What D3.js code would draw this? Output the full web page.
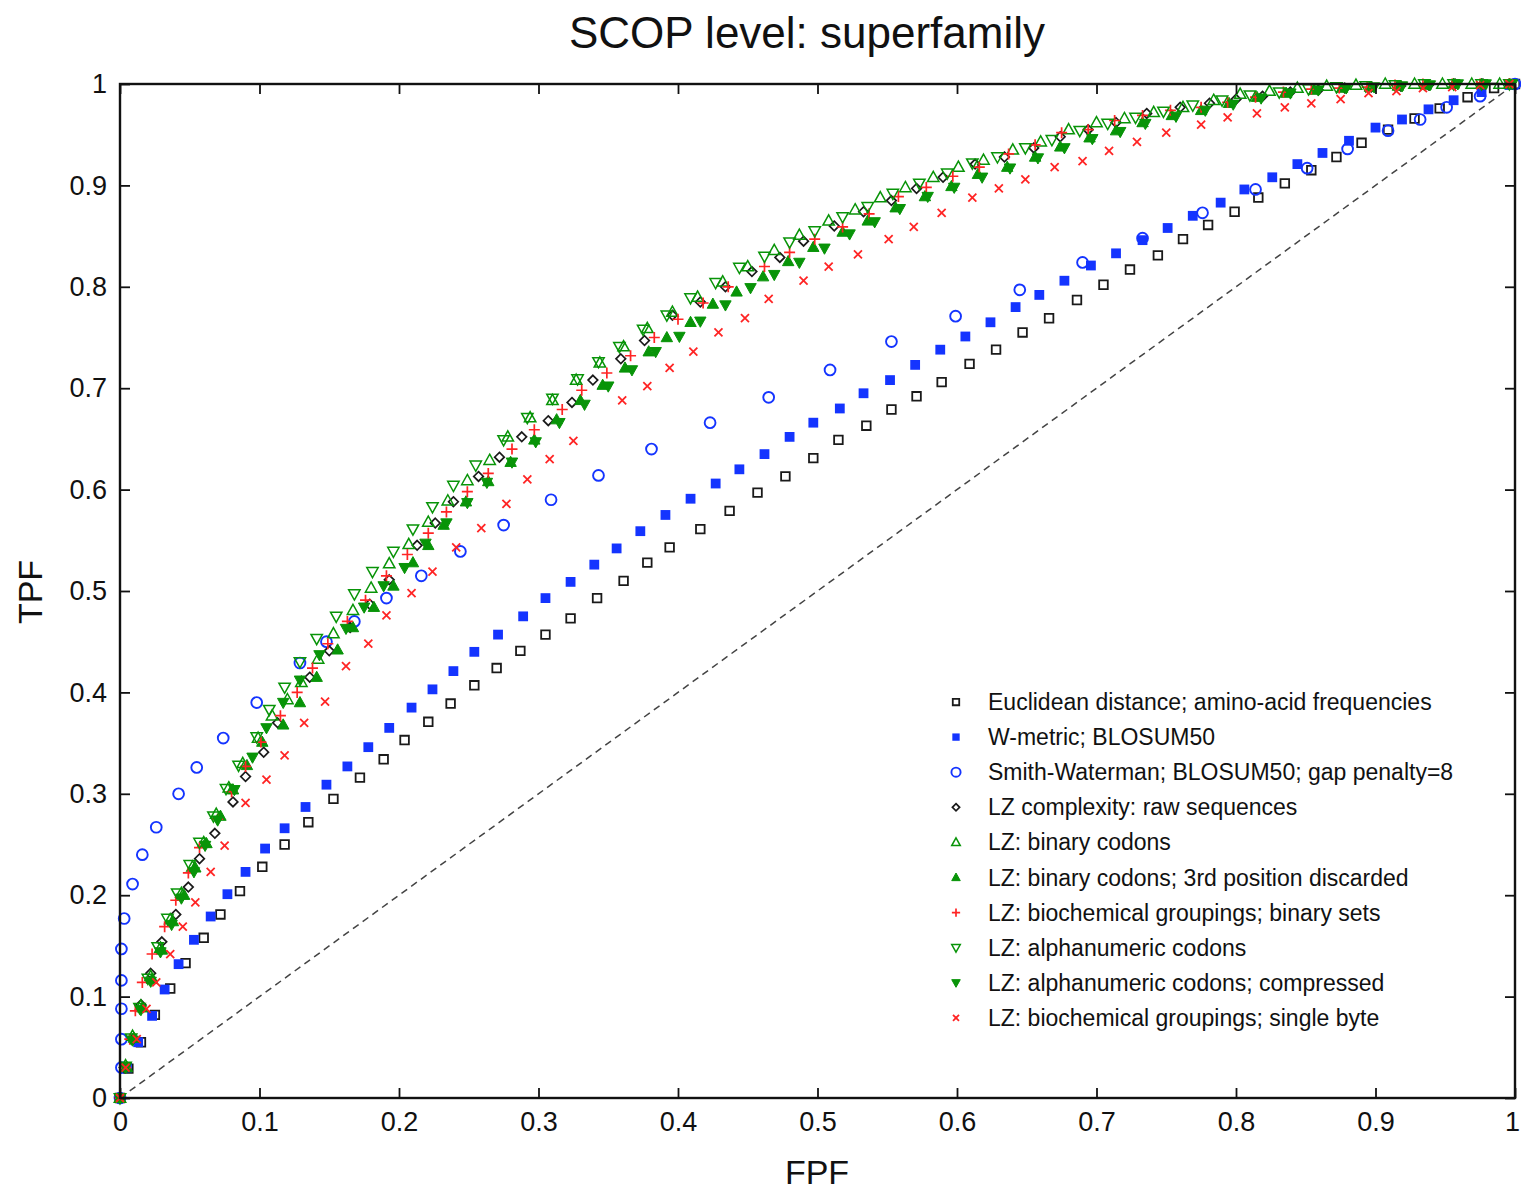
<!DOCTYPE html>
<html><head><meta charset="utf-8">
<script src="https://cdn.jsdelivr.net/npm/d3@7"></script>
<style>
body{margin:0;background:#fff;}
svg{display:block;}
text{font-family:"Liberation Sans",Arial,Helvetica,sans-serif;fill:#111;}
</style>
</head><body>
<svg id="chart" width="1521" height="1191"></svg>
<script>
// ---------- data (FPF, TPF) ----------
const xTickValues=[0,0.1,0.2,0.3,0.4,0.5,0.6,0.7,0.8,0.9,1];
const xTickLabels=["0","0.1","0.2","0.3","0.4","0.5","0.6","0.7","0.8","0.9","1"];
const yTickValues=[0,0.1,0.2,0.3,0.4,0.5,0.6,0.7,0.8,0.9,1];
const yTickLabels=["0","0.1","0.2","0.3","0.4","0.5","0.6","0.7","0.8","0.9","1"];

const euclidean=[[0,0],[0.006,0.029],[0.015,0.055],[0.025,0.082],[0.036,0.108],[0.047,0.133],[0.060,0.158],[0.072,0.181],[0.086,0.204],[0.102,0.228],[0.118,0.250],[0.135,0.272],[0.153,0.295],[0.172,0.316],[0.189,0.334],[0.204,0.353],[0.221,0.371],[0.237,0.389],[0.254,0.407],[0.270,0.424],[0.287,0.441],[0.305,0.457],[0.323,0.473],[0.342,0.493],[0.361,0.510],[0.378,0.528],[0.394,0.543],[0.416,0.561],[0.437,0.579],[0.457,0.597],[0.477,0.613],[0.497,0.631],[0.515,0.649],[0.535,0.663],[0.553,0.679],[0.571,0.692],[0.589,0.706],[0.609,0.724],[0.628,0.738],[0.647,0.755],[0.666,0.769],[0.686,0.787],[0.705,0.802],[0.724,0.817],[0.744,0.831],[0.762,0.847],[0.780,0.861],[0.799,0.874],[0.816,0.888],[0.835,0.902],[0.854,0.915],[0.872,0.928],[0.890,0.942],[0.909,0.955],[0.928,0.966],[0.946,0.976],[0.966,0.987],[0.985,0.996],[1,1]];

const wmetric=[[0,0],[0.005,0.030],[0.013,0.055],[0.023,0.081],[0.032,0.107],[0.042,0.132],[0.053,0.156],[0.065,0.179],[0.077,0.201],[0.090,0.223],[0.104,0.246],[0.118,0.266],[0.133,0.287],[0.148,0.309],[0.163,0.327],[0.178,0.346],[0.193,0.365],[0.209,0.385],[0.224,0.403],[0.239,0.421],[0.254,0.440],[0.271,0.457],[0.289,0.475],[0.305,0.493],[0.323,0.509],[0.340,0.526],[0.356,0.542],[0.373,0.559],[0.391,0.575],[0.409,0.591],[0.427,0.606],[0.444,0.620],[0.462,0.635],[0.480,0.652],[0.497,0.666],[0.516,0.680],[0.533,0.695],[0.552,0.708],[0.570,0.723],[0.588,0.738],[0.606,0.751],[0.624,0.765],[0.642,0.780],[0.659,0.792],[0.677,0.806],[0.696,0.821],[0.714,0.833],[0.733,0.846],[0.751,0.858],[0.769,0.870],[0.789,0.883],[0.806,0.896],[0.826,0.908],[0.844,0.921],[0.862,0.932],[0.881,0.944],[0.900,0.957],[0.919,0.965],[0.938,0.975],[0.956,0.984],[0.976,0.992],[0.996,0.999]];

const smithWaterman=[[0,0],[0.001,0.030],[0.001,0.058],[0.001,0.088],[0.001,0.116],[0.001,0.147],[0.003,0.177],[0.009,0.211],[0.016,0.240],[0.026,0.267],[0.042,0.300],[0.055,0.326],[0.074,0.355],[0.098,0.390],[0.129,0.429],[0.148,0.450],[0.168,0.470],[0.191,0.493],[0.216,0.515],[0.244,0.539],[0.275,0.565],[0.309,0.590],[0.343,0.614],[0.381,0.640],[0.423,0.666],[0.465,0.691],[0.509,0.718],[0.553,0.746],[0.599,0.771],[0.645,0.797],[0.690,0.824],[0.733,0.848],[0.776,0.873],[0.814,0.896],[0.851,0.917],[0.880,0.936],[0.909,0.954],[0.932,0.965],[0.951,0.977],[0.975,0.988],[1,1]];

const lzRaw=[[0,0],[0.003,0.030],[0.009,0.058],[0.015,0.092],[0.022,0.123],[0.030,0.154],[0.040,0.181],[0.049,0.208],[0.057,0.236],[0.068,0.261],[0.081,0.292],[0.090,0.317],[0.103,0.341],[0.113,0.370],[0.136,0.415],[0.150,0.441],[0.165,0.464],[0.179,0.487],[0.193,0.511],[0.213,0.545],[0.226,0.567],[0.239,0.588],[0.257,0.613],[0.272,0.632],[0.288,0.652],[0.307,0.668],[0.324,0.686],[0.339,0.708],[0.359,0.729],[0.376,0.747],[0.396,0.772],[0.416,0.785],[0.434,0.800],[0.453,0.815],[0.473,0.829],[0.490,0.845],[0.512,0.860],[0.533,0.874],[0.553,0.885],[0.571,0.897],[0.590,0.908],[0.613,0.921],[0.634,0.928],[0.655,0.937],[0.674,0.948],[0.694,0.955],[0.714,0.962],[0.736,0.971],[0.760,0.977],[0.781,0.981],[0.800,0.985],[0.819,0.988],[0.839,0.992],[0.859,0.994],[0.878,0.996],[0.897,0.997],[0.918,0.998],[0.938,0.999],[0.957,1],[0.977,1],[0.996,1]];

const binaryCodons=[[0,0],[0.004,0.032],[0.009,0.061],[0.015,0.091],[0.022,0.120],[0.029,0.148],[0.036,0.176],[0.044,0.202],[0.052,0.228],[0.060,0.252],[0.069,0.280],[0.078,0.306],[0.088,0.330],[0.099,0.355],[0.109,0.377],[0.120,0.393],[0.130,0.410],[0.142,0.433],[0.153,0.458],[0.167,0.481],[0.180,0.503],[0.193,0.527],[0.207,0.546],[0.221,0.568],[0.235,0.589],[0.249,0.609],[0.265,0.629],[0.278,0.652],[0.294,0.671],[0.310,0.688],[0.327,0.708],[0.344,0.725],[0.361,0.741],[0.378,0.759],[0.396,0.775],[0.414,0.790],[0.432,0.805],[0.450,0.820],[0.469,0.836],[0.487,0.851],[0.508,0.865],[0.527,0.876],[0.545,0.888],[0.563,0.898],[0.583,0.908],[0.601,0.918],[0.619,0.925],[0.640,0.935],[0.660,0.943],[0.680,0.955],[0.700,0.962],[0.720,0.966],[0.741,0.972],[0.762,0.977],[0.784,0.984],[0.803,0.990],[0.824,0.993],[0.844,0.996],[0.865,0.998],[0.886,0.999],[0.907,1],[0.928,1],[0.948,1],[0.969,1],[0.989,1]];

const binaryCodons3rd=[[0,0],[0.005,0.030],[0.010,0.059],[0.016,0.089],[0.023,0.117],[0.030,0.146],[0.038,0.174],[0.046,0.200],[0.054,0.227],[0.062,0.251],[0.072,0.278],[0.081,0.304],[0.091,0.328],[0.102,0.351],[0.117,0.368],[0.129,0.390],[0.141,0.415],[0.156,0.442],[0.167,0.464],[0.182,0.484],[0.196,0.505],[0.210,0.528],[0.221,0.545],[0.232,0.565],[0.248,0.588],[0.264,0.608],[0.280,0.627],[0.297,0.649],[0.313,0.669],[0.330,0.688],[0.346,0.703],[0.362,0.720],[0.379,0.736],[0.392,0.750],[0.409,0.765],[0.425,0.783],[0.442,0.795],[0.461,0.810],[0.479,0.825],[0.497,0.839],[0.518,0.854],[0.536,0.865],[0.556,0.878],[0.577,0.889],[0.596,0.899],[0.615,0.911],[0.636,0.918],[0.656,0.928],[0.674,0.938],[0.695,0.947],[0.714,0.954],[0.733,0.962],[0.754,0.969],[0.775,0.974],[0.795,0.981],[0.815,0.987],[0.836,0.991],[0.856,0.994],[0.876,0.996],[0.896,0.997],[0.916,0.998],[0.936,0.999],[0.956,1],[0.976,1],[0.996,1]];

const bioBinarySets=[[0,0],[0.004,0.030],[0.007,0.058],[0.011,0.086],[0.016,0.114],[0.023,0.142],[0.032,0.169],[0.040,0.195],[0.049,0.222],[0.057,0.247],[0.070,0.275],[0.080,0.302],[0.090,0.327],[0.101,0.351],[0.115,0.377],[0.127,0.400],[0.138,0.424],[0.149,0.448],[0.163,0.470],[0.176,0.491],[0.191,0.515],[0.206,0.536],[0.221,0.557],[0.234,0.578],[0.249,0.598],[0.264,0.616],[0.281,0.640],[0.297,0.659],[0.317,0.679],[0.331,0.698],[0.349,0.715],[0.366,0.732],[0.383,0.750],[0.400,0.768],[0.418,0.784],[0.436,0.800],[0.462,0.820],[0.480,0.834],[0.498,0.847],[0.518,0.859],[0.537,0.872],[0.558,0.889],[0.578,0.898],[0.597,0.909],[0.616,0.918],[0.637,0.931],[0.656,0.940],[0.675,0.952],[0.694,0.955],[0.713,0.964],[0.733,0.969],[0.753,0.974],[0.775,0.977],[0.794,0.982],[0.814,0.987],[0.834,0.992],[0.854,0.995],[0.874,0.996],[0.894,0.997],[0.914,0.999],[0.934,1],[0.955,1],[0.975,1],[0.996,1]];

const alphanumCodons=[[0,0],[0.004,0.031],[0.008,0.059],[0.014,0.089],[0.020,0.118],[0.027,0.149],[0.034,0.177],[0.041,0.202],[0.050,0.230],[0.057,0.252],[0.067,0.278],[0.076,0.305],[0.085,0.328],[0.098,0.356],[0.107,0.383],[0.118,0.405],[0.129,0.430],[0.141,0.453],[0.155,0.475],[0.168,0.497],[0.181,0.519],[0.196,0.539],[0.210,0.561],[0.224,0.583],[0.239,0.604],[0.255,0.624],[0.275,0.649],[0.292,0.671],[0.310,0.690],[0.328,0.709],[0.343,0.726],[0.358,0.741],[0.375,0.758],[0.392,0.772],[0.409,0.789],[0.427,0.804],[0.444,0.819],[0.462,0.830],[0.480,0.844],[0.498,0.855],[0.518,0.869],[0.536,0.879],[0.554,0.892],[0.573,0.902],[0.593,0.912],[0.611,0.922],[0.629,0.928],[0.649,0.937],[0.668,0.945],[0.688,0.954],[0.708,0.961],[0.728,0.967],[0.748,0.973],[0.769,0.979],[0.790,0.984],[0.810,0.989],[0.831,0.992],[0.852,0.995],[0.872,0.997],[0.893,0.998],[0.914,0.999],[0.935,1],[0.956,1],[0.976,1],[0.996,1]];

const alphanumCompressed=[[0,0],[0.004,0.030],[0.009,0.057],[0.015,0.087],[0.022,0.115],[0.029,0.144],[0.037,0.171],[0.044,0.197],[0.053,0.223],[0.061,0.249],[0.070,0.274],[0.082,0.304],[0.095,0.336],[0.105,0.365],[0.117,0.390],[0.129,0.412],[0.143,0.437],[0.162,0.463],[0.175,0.484],[0.189,0.505],[0.204,0.523],[0.219,0.547],[0.234,0.567],[0.249,0.587],[0.263,0.607],[0.281,0.627],[0.298,0.647],[0.315,0.666],[0.333,0.684],[0.350,0.702],[0.367,0.718],[0.384,0.736],[0.401,0.751],[0.416,0.766],[0.434,0.782],[0.452,0.799],[0.469,0.812],[0.487,0.824],[0.505,0.838],[0.523,0.852],[0.541,0.864],[0.559,0.877],[0.579,0.889],[0.598,0.898],[0.618,0.908],[0.638,0.917],[0.658,0.927],[0.677,0.937],[0.697,0.946],[0.717,0.953],[0.735,0.961],[0.757,0.968],[0.778,0.974],[0.798,0.980],[0.818,0.986],[0.839,0.991],[0.859,0.994],[0.879,0.996],[0.899,0.997],[0.919,0.998],[0.939,0.999],[0.959,1],[0.979,1],[0.998,1]];

const bioSingleByte=[[0,0],[0.004,0.030],[0.012,0.058],[0.019,0.088],[0.026,0.114],[0.036,0.142],[0.045,0.169],[0.054,0.193],[0.065,0.223],[0.075,0.249],[0.090,0.291],[0.105,0.314],[0.118,0.338],[0.132,0.370],[0.147,0.391],[0.162,0.426],[0.178,0.448],[0.191,0.476],[0.209,0.498],[0.224,0.519],[0.241,0.543],[0.259,0.562],[0.277,0.586],[0.292,0.610],[0.308,0.630],[0.325,0.648],[0.360,0.688],[0.378,0.702],[0.394,0.720],[0.411,0.736],[0.429,0.755],[0.448,0.769],[0.465,0.788],[0.490,0.806],[0.508,0.820],[0.529,0.832],[0.551,0.847],[0.569,0.859],[0.589,0.873],[0.611,0.888],[0.630,0.897],[0.649,0.906],[0.670,0.918],[0.690,0.924],[0.709,0.934],[0.729,0.943],[0.750,0.952],[0.775,0.960],[0.794,0.967],[0.815,0.971],[0.835,0.977],[0.854,0.981],[0.875,0.985],[0.895,0.991],[0.915,0.993],[0.934,0.996],[0.955,0.997],[0.975,0.999],[0.996,1]];

const seriesNames=["Euclidean distance; amino-acid frequencies","W-metric; BLOSUM50","Smith-Waterman; BLOSUM50; gap penalty=8","LZ complexity: raw sequences","LZ: binary codons","LZ: binary codons; 3rd position discarded","LZ: biochemical groupings; binary sets","LZ: alphanumeric codons","LZ: alphanumeric codons; compressed","LZ: biochemical groupings; single byte"];
const seriesData=[euclidean,wmetric,smithWaterman,lzRaw,binaryCodons,binaryCodons3rd,bioBinarySets,alphanumCodons,alphanumCompressed,bioSingleByte];

// ---------- styles ----------
const BLUE="#1434ff", GREEN="#089408", RED="#ff2424", DARK="#1a1a1a";
const styles=[
 {shape:"square",h:4.3,fill:"none",stroke:DARK,sw:1.8},
 {shape:"square",h:4.9,fill:BLUE,stroke:"none",sw:0},
 {shape:"circle",h:5.4,fill:"none",stroke:BLUE,sw:1.9},
 {shape:"diamond",h:4.8,fill:"none",stroke:DARK,sw:1.7},
 {shape:"up",h:6,fill:"none",stroke:GREEN,sw:1.5},
 {shape:"up",h:6,fill:GREEN,stroke:GREEN,sw:1},
 {shape:"plus",h:5.5,fill:"none",stroke:RED,sw:1.7},
 {shape:"down",h:6,fill:"none",stroke:GREEN,sw:1.5},
 {shape:"down",h:6,fill:GREEN,stroke:GREEN,sw:1},
 {shape:"cross",h:4,fill:"none",stroke:RED,sw:1.8}
];
function symPath(shape,h){
  switch(shape){
    case "square": return `M${-h},${-h}H${h}V${h}H${-h}Z`;
    case "circle": return `M${h},0A${h},${h} 0 1,1 ${-h},0A${h},${h} 0 1,1 ${h},0Z`;
    case "diamond": return `M0,${-h}L${h},0L0,${h}L${-h},0Z`;
    case "up": return `M0,${-h}L${h*0.95},${h*0.7}L${-h*0.95},${h*0.7}Z`;
    case "down": return `M0,${h}L${h*0.95},${-h*0.7}L${-h*0.95},${-h*0.7}Z`;
    case "plus": return `M${-h},0H${h}M0,${-h}V${h}`;
    case "cross": return `M${-h},${-h}L${h},${h}M${-h},${h}L${h},${-h}`;
  }
}

// ---------- chart ----------
const svg=d3.select("#chart");
const x=d3.scaleLinear().domain([0,1]).range([120,1515]);
const y=d3.scaleLinear().domain([0,1]).range([1098,84]);

// title
svg.append("text").attr("x",807).attr("y",48).attr("text-anchor","middle")
  .style("font-size","44px").text("SCOP level: superfamily");

// diagonal
svg.append("line").attr("x1",x(0)).attr("y1",y(0)).attr("x2",x(1)).attr("y2",y(1))
  .attr("stroke","#444").attr("stroke-width",1.5).attr("stroke-dasharray","7,5");

// series
seriesData.forEach((data,i)=>{
  const st=styles[i];
  svg.append("g").selectAll("path").data(data).join("path")
    .attr("transform",d=>`translate(${x(d[0])},${y(d[1])})`)
    .attr("d",symPath(st.shape,st.h))
    .attr("fill",st.fill).attr("stroke",st.stroke).attr("stroke-width",st.sw);
});

// axes (inward ticks)
const fmtX=(d,i)=>xTickLabels[i], fmtY=(d,i)=>yTickLabels[i];
const gB=svg.append("g").attr("transform",`translate(0,${y(0)})`)
  .call(d3.axisBottom(x).tickValues(xTickValues).tickFormat(fmtX).tickSizeInner(-10).tickSizeOuter(0).tickPadding(14));
const gL=svg.append("g").attr("transform",`translate(${x(0)},0)`)
  .call(d3.axisLeft(y).tickValues(yTickValues).tickFormat(fmtY).tickSizeInner(-10).tickSizeOuter(0).tickPadding(13));
const gT=svg.append("g").attr("transform",`translate(0,${y(1)})`)
  .call(d3.axisTop(x).tickValues(xTickValues).tickFormat("").tickSizeInner(-10).tickSizeOuter(0));
const gR=svg.append("g").attr("transform",`translate(${x(1)},0)`)
  .call(d3.axisRight(y).tickValues(yTickValues).tickFormat("").tickSizeInner(-10).tickSizeOuter(0));
[gB,gL,gT,gR].forEach(g=>{
  g.select(".domain").remove();
  g.selectAll(".tick line").attr("stroke","#111").attr("stroke-width",1.8);
  g.selectAll("text").style("font-size","27px").attr("fill","#111").style("font-family","'Liberation Sans',Arial,sans-serif");
});
// keep the last x label inside the picture
gB.selectAll(".tick text").filter((d)=>d===1).attr("dx","-3");
// frame
svg.append("rect").attr("x",x(0)).attr("y",y(1)).attr("width",x(1)-x(0)).attr("height",y(0)-y(1))
  .attr("fill","none").attr("stroke","#111").attr("stroke-width",2.4);

// axis labels
svg.append("text").attr("x",817).attr("y",1184).attr("text-anchor","middle")
  .style("font-size","34px").text("FPF");
svg.append("text").attr("transform","translate(42,592) rotate(-90)").attr("text-anchor","middle")
  .style("font-size","34px").text("TPF");

// legend
const leg=svg.append("g");
seriesNames.forEach((name,i)=>{
  const yy=702+i*35.1, st=styles[i];
  const s=st.shape==="circle"?0.85:0.75;
  leg.append("path").attr("transform",`translate(956,${yy})`).attr("d",symPath(st.shape,st.h*s))
    .attr("fill",st.fill).attr("stroke",st.stroke).attr("stroke-width",st.sw);
  leg.append("text").attr("x",988).attr("y",yy).attr("dy","0.35em")
    .style("font-size","23px").text(name);
});
</script>
</body></html>
